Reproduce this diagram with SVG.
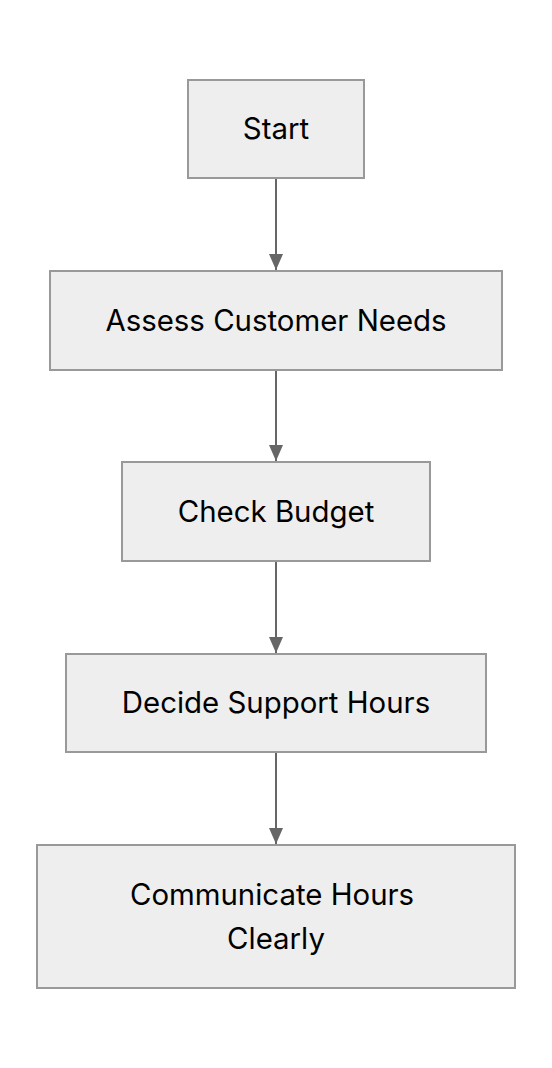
<svg xmlns="http://www.w3.org/2000/svg" width="552" height="1068" viewBox="0 0 552 1068">
<style>
.n rect{fill:#eeeeee;stroke:#999999;stroke-width:2}
.n text{font-family:Inter,"Liberation Sans",sans-serif;font-size:29.4px;fill:#000;text-anchor:middle}
.e line{stroke:#666666;stroke-width:2}
</style>
<defs>
<marker id="ah" markerWidth="16" markerHeight="14" refX="16" refY="7" orient="auto" markerUnits="userSpaceOnUse">
<path d="M0,0 L16,7 L0,14 Z" fill="#666666"/>
</marker>
</defs>
<rect width="552" height="1068" fill="#ffffff"/>
<g id="edges" class="e">
<line x1="276" y1="179" x2="276" y2="270" marker-end="url(#ah)"/>
<line x1="276" y1="370" x2="276" y2="461" marker-end="url(#ah)"/>
<line x1="276" y1="561" x2="276" y2="653" marker-end="url(#ah)"/>
<line x1="276" y1="752" x2="276" y2="844" marker-end="url(#ah)"/>
</g>
<g id="start" class="n"><rect x="188" y="80" width="176" height="98"/><text x="276" y="139">Start</text></g>
<g id="assess" class="n"><rect x="50" y="271" width="452" height="99"/><text x="276" y="331">Assess Customer Needs</text></g>
<g id="budget" class="n"><rect x="122" y="462" width="308" height="99"/><text x="276" y="522">Check Budget</text></g>
<g id="decide" class="n"><rect x="66" y="654" width="420" height="98"/><text x="276" y="713">Decide Support Hours</text></g>
<g id="communicate" class="n"><rect x="37" y="845" width="478" height="143"/><text x="272" y="905">Communicate Hours</text><text x="276" y="949">Clearly</text></g>
</svg>
